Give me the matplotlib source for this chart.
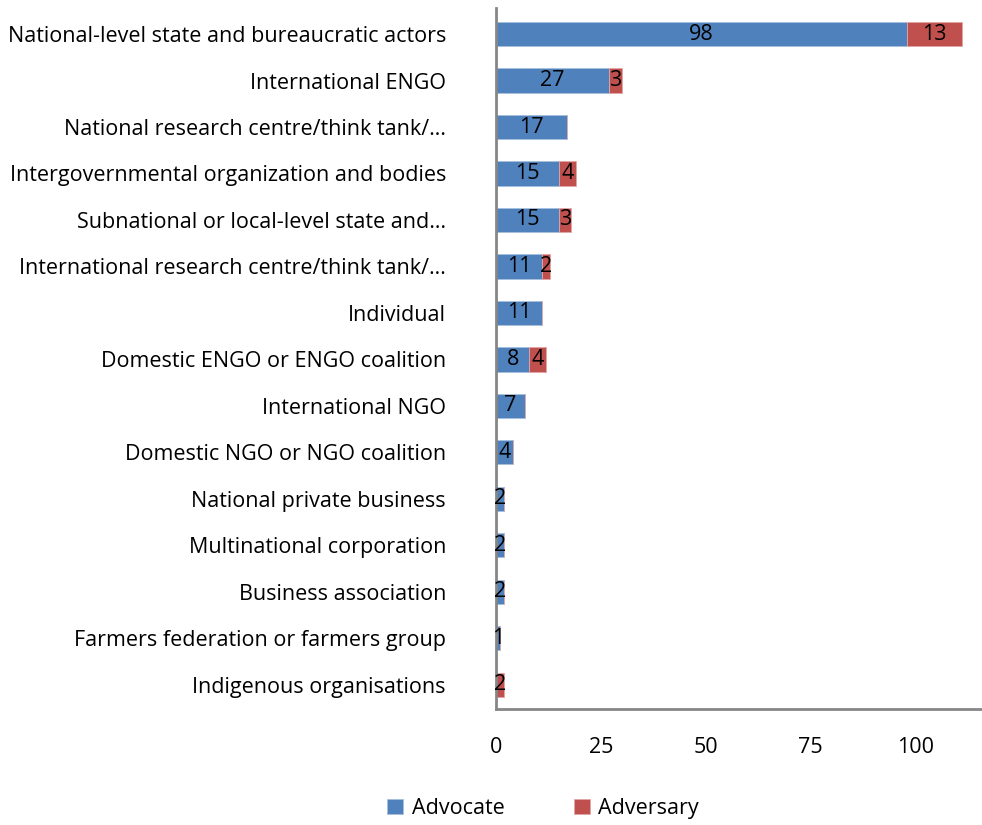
import numpy as np
import matplotlib.pyplot as plt

plt.rcParams['font.family'] = ['Open Sans', 'DejaVu Sans']

actors = [
    'National-level state and bureaucratic actors',
    'International ENGO',
    'National research centre/think tank/…',
    'Intergovernmental organization and bodies',
    'Subnational or local-level state and…',
    'International research centre/think tank/…',
    'Individual',
    'Domestic ENGO or ENGO coalition',
    'International NGO',
    'Domestic NGO or NGO coalition',
    'National private business',
    'Multinational corporation',
    'Business association',
    'Farmers federation or farmers group',
    'Indigenous organisations',
]
advocate = [98, 27, 17, 15, 15, 11, 11, 8, 7, 4, 2, 2, 2, 1, 0]
adversary = [13, 3, 0, 4, 3, 2, 0, 4, 0, 0, 0, 0, 0, 0, 2]

blue = '#4F81BD'
red = '#C0504D'
axis_grey = '#868686'
fs = 15.5

fig = plt.figure(figsize=(9.82, 8.25), dpi=100)
ax = fig.add_axes([0.505, 0.1406, 0.495, 0.8497])

y = np.arange(len(actors))
h = 0.52
b1 = ax.barh(y, advocate, height=h, color=blue, edgecolor='#A7BFDE', linewidth=0.6, label='Advocate')
b2 = ax.barh(y, adversary, height=h, left=advocate, color=red, edgecolor='#E0A6A5', linewidth=0.6, label='Adversary')

# value labels in the middle of each non-empty segment
for bars, vals in ((b1, advocate), (b2, adversary)):
    labels = [str(v) if v > 0 else '' for v in vals]
    ax.bar_label(bars, labels=labels, label_type='center', fontsize=fs, color='black')

ax.set_ylim(len(actors) - 0.48, -0.56)
ax.set_xlim(0, 115.8)
ax.set_yticks(y)
ax.set_yticklabels(actors, fontsize=fs)
ax.set_xticks([0, 25, 50, 75, 100])
ax.tick_params(axis='x', labelsize=fs, length=0, pad=20)
ax.tick_params(axis='y', length=0, pad=36)

for side in ('top', 'right'):
    ax.spines[side].set_visible(False)
for side in ('left', 'bottom'):
    ax.spines[side].set_color(axis_grey)
    ax.spines[side].set_linewidth(2)

fig.legend(handles=[b1, b2], loc='center', bbox_to_anchor=(0.553, 0.02),
           ncol=2, frameon=False, fontsize=fs, handlelength=0.75, handleheight=0.75,
           handletextpad=0.4, columnspacing=3.2)

fig.savefig('out.png', dpi=100)
